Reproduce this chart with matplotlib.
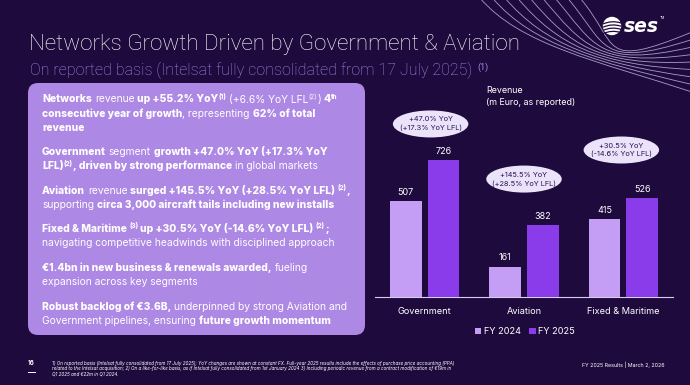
import matplotlib
matplotlib.use("Agg")
import matplotlib.pyplot as plt
from matplotlib.patches import FancyBboxPatch, Ellipse, Circle, PathPatch
from matplotlib.path import Path
from matplotlib.transforms import IdentityTransform
import numpy as np

# --- data ---
segments = ["Government", "Aviation", "Fixed & Maritime"]
fy2024 = [507, 161, 415]
fy2025 = [726, 382, 526]
series_labels = ["FY 2024", "FY 2025"]
yoy_notes = ["+47.0% YoY\n(+17.3% YoY LFL)",
             "+145.5% YoY\n(+28.5% YoY LFL)",
             "+30.5% YoY\n(-14.6% YoY LFL)"]

title = "Networks Growth Driven by Government & Aviation"
subtitle = "On reported basis (Intelsat fully consolidated from 17 July 2025)"

# box paragraphs: (text, style) ; style: b=bold, n=normal, ^=superscript
paragraphs = [
    [[("Networks", "b"), (" revenue ", "n"), ("up +55.2% YoY", "b"), ("(1)", "b^"),
      (" (+6.6% YoY LFL", "n"), ("(2)", "n^"), (") ", "n"), ("4", "b"), ("th", "b^")],
     [("consecutive year of growth", "b"), (", representing ", "n"), ("62% of total", "b")],
     [("revenue", "b")]],
    [[("Government", "b"), (" segment ", "n"), ("growth +47.0% YoY (+17.3% YoY", "b")],
     [("LFL)", "b"), ("(2)", "b^"), (", driven by strong performance", "b"), (" in global markets", "n")]],
    [[("Aviation", "b"), (" revenue ", "n"), ("surged +145.5% YoY (+28.5% YoY LFL) ", "b"),
      ("(2)", "b^"), (",", "b")],
     [("supporting ", "n"), ("circa 3,000 aircraft tails including new installs", "b")]],
    [[("Fixed & Maritime ", "b"), ("(3)", "b^"), (" up +30.5% YoY (-14.6% YoY LFL) ", "b"),
      ("(2)", "b^"), (";", "b")],
     [("navigating competitive headwinds with disciplined approach", "n")]],
    [[("€1.4bn in new business & renewals awarded,", "b"), (" fueling", "n")],
     [("expansion across key segments", "n")]],
    [[("Robust backlog of €3.6B,", "b"), (" underpinned by strong Aviation and", "n")],
     [("Government pipelines, ensuring ", "n"), ("future growth momentum", "b")]],
]

footnotes = [
    "1) On reported basis (Intelsat fully consolidated from 17 July 2025); YoY changes are shown at constant FX. "
    "Full-year 2025 results include the effects of purchase price accounting (PPA)",
    "related to the Intelsat acquisition; 2) On a like-for-like basis, as if Intelsat fully consolidated from "
    "1st January 2024 3) Including periodic revenue from a contract modification of €19m in",
    "Q1 2025 and €22m in Q1 2024.",
]

# --- style ---
W, H = 690, 385
BG = "#1f0a3e"
BOX = "#ad88e4"
C24 = "#c39ef4"
C25 = "#8a3cea"
LAV = "#a58be8"
DARK = "#2a1152"
BODY = "Inter"
BOLD = "heavy"

plt.rcParams["font.family"] = [BODY, "DejaVu Sans"]

fig = plt.figure(figsize=(W / 100, H / 100), dpi=100, facecolor=BG)
px = IdentityTransform()
renderer = fig.canvas.get_renderer()


def ptext(x, y, s, **kw):
    # text in image pixel coords (y from top)
    return fig.text(x, H - y, s, transform=px, **kw)


def text_width(s, size, weight):
    # advance width of s, measured between two marker glyphs
    a = ptext(0, 0, "x" + s + "x", fontsize=size, fontweight=weight, family=BODY)
    b = ptext(0, 0, "xx", fontsize=size, fontweight=weight, family=BODY)
    w = a.get_window_extent(renderer).width - b.get_window_extent(renderer).width
    a.remove()
    b.remove()
    return w


def rich_line(x, y, parts, size=7.4, color="white"):
    for s, style in parts:
        bold = "b" in style
        sup = "^" in style
        fs = size * 0.62 if sup else size
        wt = BOLD if bold else "normal"
        lead = s[:len(s) - len(s.lstrip(" "))]
        core = s.strip(" ")
        x0 = x + (text_width(lead, fs, wt) if lead else 0)
        if core:
            ptext(x0, y - (size * 0.5 if sup else 0), core, fontsize=fs, fontweight=wt,
                  color=color, family=BODY, va="baseline", zorder=5)
        x += text_width(s, fs, wt)
    return x


# decorative curves top right
for i in range(9):
    x0 = 480 + i * 12.5
    verts = [(x0, -2), (x0 + 40, 45), (598, 66 + (i - 4) * 1.2), (692, 92 - i * 7.5)]
    verts = [(vx, H - vy) for vx, vy in verts]
    path = Path(verts, [Path.MOVETO, Path.CURVE4, Path.CURVE4, Path.CURVE4])
    fig.add_artist(PathPatch(path, fc="none", ec="#d9ccf5", lw=0.6, alpha=0.75,
                             transform=px, zorder=1))

# logo
fig.add_artist(Circle((612, H - 26), 8.5, color="white", transform=px, zorder=3))
for k in range(4):
    yy = 21 + k * 3.2
    fig.add_artist(PathPatch(Path([(603, H - yy - 3), (612, H - yy + 1), (621, H - yy - 2)],
                                  [Path.MOVETO, Path.CURVE3, Path.CURVE3]),
                             fc="none", ec=BG, lw=0.9, transform=px, zorder=4))
ptext(624, 32, "ses", fontsize=13.5, fontweight="bold", style="italic", color="white",
      family="DejaVu Sans", va="baseline")
ptext(660, 19, "TM", fontsize=2.5, color="white", va="baseline")

# titles
ptext(29, 50, title, fontsize=16.1, fontweight="light", family="Roboto", color="white",
      va="baseline")
st = ptext(30, 75, subtitle, fontsize=11.5, fontweight="light", family="Roboto", color=LAV,
           va="baseline")
ptext(st.get_window_extent(renderer).x1 + 5, 70, "(1)", fontsize=6.5, family="Roboto",
      color=LAV, va="baseline")

# left box
fig.add_artist(FancyBboxPatch((28, H - 335), 337, 252,
                              boxstyle="round,pad=0,rounding_size=10",
                              fc=BOX, ec="none", transform=px, zorder=2))
para_top = [102.5, 155, 193.5, 232, 271, 309.5]
for y0, para in zip(para_top, paragraphs):
    for j, line in enumerate(para):
        rich_line(42, y0 + j * 14.3, line)

# chart
ax = fig.add_axes([375 / W, (H - 297) / H, 298 / W, 207 / H])
ax.set_facecolor("none")
x = np.arange(len(segments))
bw = 0.32
b1 = ax.bar(x - 0.19, fy2024, bw, color=C24, label=series_labels[0], zorder=3)
b2 = ax.bar(x + 0.19, fy2025, bw, color=C25, label=series_labels[1], zorder=3)
for bars in (b1, b2):
    ax.bar_label(bars, padding=3, color="white", fontsize=6.5)
ax.set_xlim(-0.5, 2.5)
ax.set_ylim(0, 1097)
ax.set_xticks(x)
ax.set_xticklabels(segments, color="white", fontsize=6.6)
ax.tick_params(axis="x", length=0, pad=7)
ax.set_yticks([])
for sp in ["top", "left", "right"]:
    ax.spines[sp].set_visible(False)
ax.spines["bottom"].set_color("#d8ccef")
ax.spines["bottom"].set_linewidth(0.8)

note_x = [0.06, 1.0, 1.98]
note_y = [917, 625, 779]
for nx, ny, note in zip(note_x, note_y, yoy_notes):
    ax.add_patch(Ellipse((nx, ny), 0.76, 143, fc="#ebe3fa", ec="none", clip_on=False, zorder=4))
    ax.text(nx, ny, note, ha="center", va="center", fontsize=5.3, color=DARK,
            linespacing=1.45, zorder=5)

ax.legend(loc="center", bbox_to_anchor=(0.503, -0.169), ncol=2, frameon=False,
          handlelength=0.7, handleheight=0.7, handletextpad=0.3, columnspacing=0.9,
          fontsize=6.6, labelcolor="white")

ptext(486, 105, "Revenue\n(m Euro, as reported)", fontsize=6.4, color="white",
      va="baseline", linespacing=1.45)

# footer
ptext(28, 365, "16", fontsize=4.5, fontweight="bold", color="white", va="baseline")
fig.add_artist(plt.Line2D([28, 35], [H - 372, H - 372], color="white", lw=0.7, transform=px))
for k, line in enumerate(footnotes):
    ptext(52.5, 364.5 + k * 5.7, line, fontsize=3.3, style="italic", color="white",
          va="baseline")
ptext(582, 366.5, "FY 2025 Results | March 2, 2026", fontsize=3.8, color="white",
      va="baseline")

fig.savefig("out.png", dpi=100, facecolor=BG)
